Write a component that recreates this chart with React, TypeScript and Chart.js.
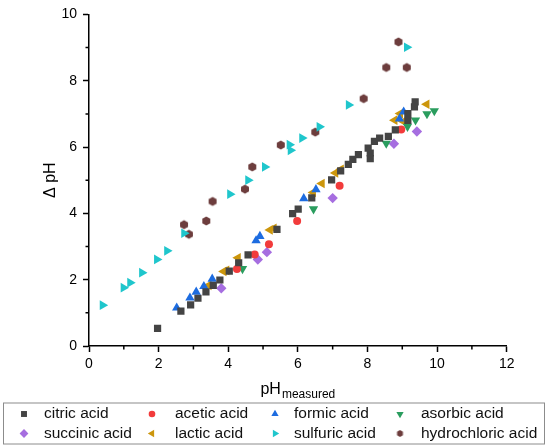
import { useEffect, useRef } from "react";
import { Chart, registerables } from "chart.js";
import { drawPoint } from "chart.js/helpers";

Chart.register(...registerables);

type Pt = [number, number];

// values: [pH measured, delta pH]
const citric: Pt[] = [
  [1.97, 0.53], [2.64, 1.05], [2.92, 1.24], [3.13, 1.44], [3.36, 1.63], [3.57, 1.83],
  [3.76, 1.99], [4.03, 2.26], [4.3, 2.51], [4.57, 2.75], [5.4, 3.52], [5.85, 3.99],
  [6.01, 4.13], [6.4, 4.47], [6.97, 5.01], [7.23, 5.28], [7.45, 5.48], [7.58, 5.63],
  [7.74, 5.77], [8.02, 5.97], [8.08, 5.82], [8.08, 5.65], [8.2, 6.17], [8.35, 6.27],
  [8.6, 6.32], [8.8, 6.52], [9.16, 6.8], [9.16, 7.01], [9.35, 7.21], [9.37, 7.36],
];
const acetic: Pt[] = [
  [4.25, 2.32], [4.76, 2.76], [5.17, 3.07], [5.98, 3.77], [7.2, 4.83], [8.97, 6.53],
];
const formic: Pt[] = [
  [2.52, 1.15], [2.9, 1.45], [3.08, 1.63], [3.3, 1.8], [3.54, 2.02], [4.8, 3.18],
  [4.91, 3.31], [6.17, 4.45], [6.52, 4.72], [8.92, 6.85], [9.04, 7.06],
];
const asorbic: Pt[] = [
  [4.41, 2.33], [6.45, 4.13], [8.54, 6.11], [9.15, 6.62], [9.38, 6.81], [9.71, 7.0], [9.92, 7.09],
];
const succinic: Pt[] = [
  [3.8, 1.74], [4.85, 2.61], [5.11, 2.83], [7.0, 4.46], [8.76, 6.1], [9.42, 6.47],
];
const lactic: Pt[] = [
  [3.44, 1.83], [3.87, 2.25], [3.95, 2.28], [4.28, 2.66], [5.2, 3.5], [5.31, 3.55],
  [6.44, 4.63], [6.69, 4.9], [7.08, 5.22], [7.24, 5.33], [8.78, 6.81], [8.94, 7.01],
  [9.03, 6.77], [9.7, 7.29],
];
const sulfuric: Pt[] = [
  [0.39, 1.23], [0.99, 1.76], [1.18, 1.91], [1.52, 2.21], [1.95, 2.61], [2.24, 2.87],
  [2.73, 3.4], [4.05, 4.58], [4.57, 5.0], [5.05, 5.4], [5.76, 6.07], [5.79, 5.9],
  [6.12, 6.27], [6.62, 6.61], [7.46, 7.27], [9.13, 9.01],
];
const hydrochloric: Pt[] = [
  [2.73, 3.66], [2.87, 3.37], [3.37, 3.77], [3.55, 4.36], [4.48, 4.73], [4.69, 5.4],
  [5.51, 6.06], [6.5, 6.45], [7.89, 7.46], [8.54, 8.4], [8.89, 9.17], [9.13, 8.4],
];

const seriesNames = [
  "citric acid", "acetic acid", "formic acid", "asorbic acid",
  "succinic acid", "lactic acid", "sulfuric acid", "hydrochloric acid",
];
const seriesData = [citric, acetic, formic, asorbic, succinic, lactic, sulfuric, hydrochloric];

const xTicks = [0, 2, 4, 6, 8, 10, 12];
const yTicks = [0, 2, 4, 6, 8, 10];

const FONT = '"Liberation Sans", Arial, sans-serif';

function hexagon(r: number, color: string) {
  const size = Math.ceil(r * 2) + 2;
  const c = document.createElement("canvas");
  c.width = size;
  c.height = size;
  const g = c.getContext("2d")!;
  g.fillStyle = color;
  g.beginPath();
  for (let i = 0; i < 6; i++) {
    const a = Math.PI / 6 + (i * Math.PI) / 3;
    const px = size / 2 + Math.cos(a) * r;
    const py = size / 2 + Math.sin(a) * r;
    if (i === 0) g.moveTo(px, py);
    else g.lineTo(px, py);
  }
  g.closePath();
  g.fill();
  return c;
}

export default function App() {
  const canvasRef = useRef<HTMLCanvasElement>(null);

  useEffect(() => {
    document.body.style.margin = "0";
    if (!canvasRef.current) return;

    const colors = ["#444444", "#f23b3b", "#1d6ce0", "#2a9d5e", "#a66ee0", "#cc960c", "#1fc6cc", "#6d3d3d"];
    const styles: any[] = [
      { pointStyle: "rect", rotation: 0, radius: 5.1, legendRadius: 4.2 },
      { pointStyle: "circle", rotation: 0, radius: 4, legendRadius: 3.3 },
      { pointStyle: "triangle", rotation: 0, radius: 5.4, legendRadius: 4.2 },
      { pointStyle: "triangle", rotation: 180, radius: 5.4, legendRadius: 4.2 },
      { pointStyle: "rectRot", rotation: 0, radius: 5.2, legendRadius: 4.4 },
      { pointStyle: "triangle", rotation: -90, radius: 5.6, legendRadius: 4.2 },
      { pointStyle: "triangle", rotation: 90, radius: 5.6, legendRadius: 4.2 },
      { pointStyle: hexagon(4.6, colors[7]), rotation: 0, radius: 4.6, legendRadius: 3.5 },
    ];
    const legendHex = hexagon(3.4, colors[7]);

    const extras = {
      id: "extras",
      afterDraw(chart: any) {
        const { ctx, chartArea, scales } = chart;
        ctx.save();
        // minor ticks
        ctx.strokeStyle = "#000";
        ctx.lineWidth = 1.5;
        ctx.beginPath();
        for (let v = 1; v < 12; v += 2) {
          const px = scales.x.getPixelForValue(v);
          ctx.moveTo(px, chartArea.bottom);
          ctx.lineTo(px, chartArea.bottom + 3.5);
        }
        for (let v = 1; v < 10; v += 2) {
          const py = scales.y.getPixelForValue(v);
          ctx.moveTo(chartArea.left, py);
          ctx.lineTo(chartArea.left - 3.5, py);
        }
        ctx.stroke();

        // y title
        ctx.fillStyle = "#000";
        ctx.save();
        ctx.translate(51, (chartArea.top + chartArea.bottom) / 2);
        ctx.rotate(-Math.PI / 2);
        ctx.textAlign = "center";
        ctx.textBaseline = "middle";
        ctx.font = `16px ${FONT}`;
        ctx.fillText("Δ pH", 0, 0);
        ctx.restore();

        // x title with subscript
        ctx.textAlign = "left";
        ctx.textBaseline = "alphabetic";
        ctx.font = `16px ${FONT}`;
        const w1 = ctx.measureText("pH").width;
        ctx.font = `12px ${FONT}`;
        const w2 = ctx.measureText("measured").width;
        const x0 = (chartArea.left + chartArea.right) / 2 - (w1 + w2 + 1) / 2;
        ctx.font = `16px ${FONT}`;
        ctx.fillText("pH", x0, 394);
        ctx.font = `12px ${FONT}`;
        ctx.fillText("measured", x0 + w1 + 1, 398);

        // legend box
        ctx.strokeStyle = "#8c8c8c";
        ctx.lineWidth = 1;
        ctx.strokeRect(3.5, 403, 541, 41);
        const markerX = [24, 152, 275, 400];
        const textX = [44, 175, 294, 421];
        const rowY = [414, 433.5];
        ctx.font = `15.5px ${FONT}`;
        ctx.textBaseline = "middle";
        chart.data.datasets.forEach((ds: any, i: number) => {
          const col = i % 4;
          const row = Math.floor(i / 4);
          const st = styles[i];
          ctx.fillStyle = ds.backgroundColor;
          ctx.strokeStyle = ds.backgroundColor;
          drawPoint(ctx, {
            pointStyle: i === 7 ? legendHex : st.pointStyle,
            rotation: st.rotation,
            radius: st.legendRadius,
            borderWidth: 0,
          } as any, markerX[col], rowY[row]);
          ctx.fillStyle = "#111";
          ctx.fillText(ds.label, textX[col], rowY[row]);
        });
        ctx.restore();
      },
    };

    const chart = new Chart(canvasRef.current, {
      type: "scatter",
      data: {
        datasets: seriesData.map((pts, i) => ({
          label: seriesNames[i],
          data: pts.map(([x, y]) => ({ x, y })),
          backgroundColor: colors[i],
          borderColor: colors[i],
          borderWidth: 0,
          pointStyle: styles[i].pointStyle,
          rotation: styles[i].rotation,
          pointRadius: styles[i].radius,
        })),
      },
      options: {
        animation: false,
        responsive: false,
        events: [],
        layout: { padding: { left: 0, right: 43.3, top: 9.5, bottom: 0 } },
        plugins: {
          legend: { display: false },
          tooltip: { enabled: false },
        },
        scales: {
          x: {
            type: "linear",
            min: 0,
            max: 12,
            afterBuildTicks: (scale: any) => {
              scale.ticks = xTicks.map((value) => ({ value }));
            },
            afterFit: (scale: any) => {
              scale.height = 101;
            },
            grid: { drawOnChartArea: false, drawTicks: true, tickLength: 6, tickColor: "#000", tickWidth: 1.5 },
            border: { display: true, color: "#000", width: 1.5 },
            ticks: { color: "#000", padding: 4, font: { family: FONT, size: 14 }, maxRotation: 0 },
          },
          y: {
            type: "linear",
            min: 0,
            max: 10,
            afterBuildTicks: (scale: any) => {
              scale.ticks = yTicks.map((value) => ({ value }));
            },
            afterFit: (scale: any) => {
              scale.width = 89;
            },
            grid: { drawOnChartArea: false, drawTicks: true, tickLength: 6, tickColor: "#000", tickWidth: 1.5 },
            border: { display: true, color: "#000", width: 1.5 },
            ticks: { color: "#000", padding: 6, font: { family: FONT, size: 14 } },
          },
        },
      },
      plugins: [extras],
    });

    return () => {
      chart.destroy();
    };
  }, []);

  return (
    <div style={{ width: 550, height: 447, background: "#fff" }}>
      <canvas ref={canvasRef} width={550} height={447}></canvas>
    </div>
  );
}
